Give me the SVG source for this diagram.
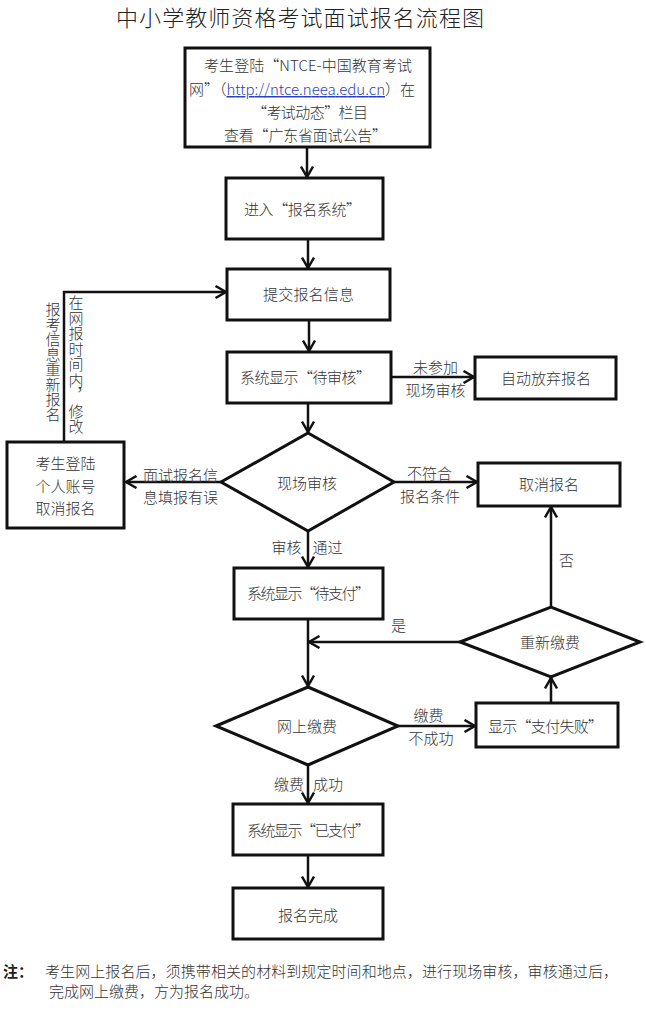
<svg xmlns="http://www.w3.org/2000/svg" width="646" height="1022" viewBox="0 0 646 1022">
<style>
text{font-family:"Noto Sans CJK SC","Noto Sans",sans-serif;font-size:15px;font-weight:300;fill:#333}
.title{font-size:22px;fill:#222}
.box{fill:#fff;stroke:#111;stroke-width:3}
.con{fill:none;stroke:#111;stroke-width:2.5}
.arr{marker-end:url(#ah)}
.m{text-anchor:middle}
.url{fill:#2a3fc0;text-decoration:underline}
.vt{writing-mode:vertical-rl}
.b{font-weight:bold;fill:#222}
</style>
<defs>
<marker id="ah" markerUnits="userSpaceOnUse" viewBox="0 0 14 14" markerWidth="14" markerHeight="14" refX="12" refY="7" orient="auto">
<path d="M1.5,1 L12,7 L1.5,13" fill="none" stroke="#111" stroke-width="2.5"/>
</marker>
</defs>
<rect width="646" height="1022" fill="#fff"/>
<text class="title" x="116" y="25.5" textLength="368">中小学教师资格考试面试报名流程图</text>

<g id="connectors">
<line class="con arr" x1="307" y1="147" x2="307" y2="177"/>
<line class="con arr" x1="308" y1="239" x2="308" y2="268"/>
<line class="con arr" x1="309" y1="320" x2="309" y2="351"/>
<line class="con arr" x1="308" y1="403" x2="308" y2="432"/>
<line class="con arr" x1="391" y1="377" x2="474" y2="377"/>
<line class="con arr" x1="221" y1="482" x2="126" y2="482"/>
<line class="con arr" x1="394" y1="482" x2="477" y2="482"/>
<polyline class="con arr" points="64,442 64,292 226,292"/>
<line class="con arr" x1="308" y1="531" x2="308" y2="567"/>
<line class="con arr" x1="308" y1="619" x2="308" y2="686"/>
<line class="con arr" x1="460" y1="642" x2="309" y2="642"/>
<line class="con arr" x1="551" y1="607" x2="551" y2="507"/>
<line class="con arr" x1="398" y1="726" x2="475" y2="726"/>
<line class="con arr" x1="551" y1="703" x2="551" y2="678"/>
<line class="con arr" x1="308" y1="765" x2="308" y2="803"/>
<line class="con arr" x1="308" y1="855" x2="308" y2="887"/>
</g>

<g id="edge-labels">
<text class="m" x="435.5" y="372.5">未参加</text>
<text class="m" x="435.5" y="395.5">现场审核</text>
<text class="m" x="180.5" y="480.5" textLength="75">面试报名信</text>
<text class="m" x="180.5" y="502.5" textLength="75">息填报有误</text>
<text class="m" x="429.5" y="478.5">不符合</text>
<text class="m" x="430" y="501.5">报名条件</text>
<text class="m" x="286.5" y="552.5">审核</text>
<text class="m" x="327.5" y="552.5">通过</text>
<text class="m" x="398.5" y="630.5">是</text>
<text class="m" x="566.5" y="565.5">否</text>
<text class="m" x="428.5" y="720.5">缴费</text>
<text class="m" x="431" y="743.5">不成功</text>
<text class="m" x="289" y="789.5">缴费</text>
<text class="m" x="328" y="789.5">成功</text>
<text class="vt" x="53" y="302">报考信息重新报名</text>
<text class="vt" x="76" y="295" letter-spacing="0.5">在网报时间内，修改</text>
</g>

<g id="n-login">
<rect class="box" x="185" y="48" width="245" height="99"/>
<text x="204" y="71" textLength="208">考生登陆“NTCE-中国教育考试</text>
<text x="189" y="95" textLength="226">网”（<tspan class="url">http://ntce.neea.edu.cn</tspan>）在</text>
<text x="252" y="118" textLength="116">“考试动态”栏目</text>
<text x="224" y="141" textLength="163">查看“广东省面试公告”</text>
</g>
<g id="n-enter">
<rect class="box" x="226" y="178" width="157" height="61"/>
<text class="m" x="302.5" y="214.5" textLength="117">进入“报名系统”</text>
</g>
<g id="n-submit">
<rect class="box" x="227" y="269" width="163" height="51"/>
<text class="m" x="308.5" y="299.5" textLength="91">提交报名信息</text>
</g>
<g id="n-pending-review">
<rect class="box" x="227" y="352" width="164" height="51"/>
<text class="m" x="305.5" y="382.5" textLength="131">系统显示“待审核”</text>
</g>
<g id="n-abandon">
<rect class="box" x="475" y="357" width="141" height="42"/>
<text class="m" x="546" y="383.5" textLength="90">自动放弃报名</text>
</g>
<g id="n-review">
<polygon class="box" points="221,482 308,433 394,482 308,531"/>
<text class="m" x="307" y="488.5">现场审核</text>
</g>
<g id="n-cancel-self">
<rect class="box" x="7" y="442" width="117" height="86"/>
<text class="m" x="65.5" y="468.5">考生登陆</text>
<text class="m" x="65.5" y="491.5">个人账号</text>
<text class="m" x="65.5" y="513.5">取消报名</text>
</g>
<g id="n-cancel">
<rect class="box" x="478" y="463" width="142" height="43"/>
<text class="m" x="549" y="489.5">取消报名</text>
</g>
<g id="n-pending-pay">
<rect class="box" x="234" y="568" width="149" height="51"/>
<text class="m" x="308.5" y="598.5" textLength="123">系统显示“待支付”</text>
</g>
<g id="n-repay">
<polygon class="box" points="460,642 551,607 640,642 551,677"/>
<text class="m" x="550" y="647.5">重新缴费</text>
</g>
<g id="n-online-pay">
<polygon class="box" points="216,726 308,687 398,726 308,765"/>
<text class="m" x="307" y="731.5">网上缴费</text>
</g>
<g id="n-pay-fail">
<rect class="box" x="476" y="703" width="142" height="44"/>
<text class="m" x="545.5" y="731.5" textLength="115">显示“支付失败”</text>
</g>
<g id="n-paid">
<rect class="box" x="233" y="804" width="150" height="51"/>
<text class="m" x="308.5" y="835.5" textLength="123">系统显示“已支付”</text>
</g>
<g id="n-done">
<rect class="box" x="233" y="888" width="150" height="51"/>
<text class="m" x="308" y="920.5">报名完成</text>
</g>

<g id="note">
<text class="b" x="3" y="976.5">注：</text>
<text x="45" y="976.5" textLength="573">考生网上报名后，须携带相关的材料到规定时间和地点，进行现场审核，审核通过后，</text>
<text x="49" y="996.5" textLength="210">完成网上缴费，方为报名成功。</text>
</g>
</svg>
